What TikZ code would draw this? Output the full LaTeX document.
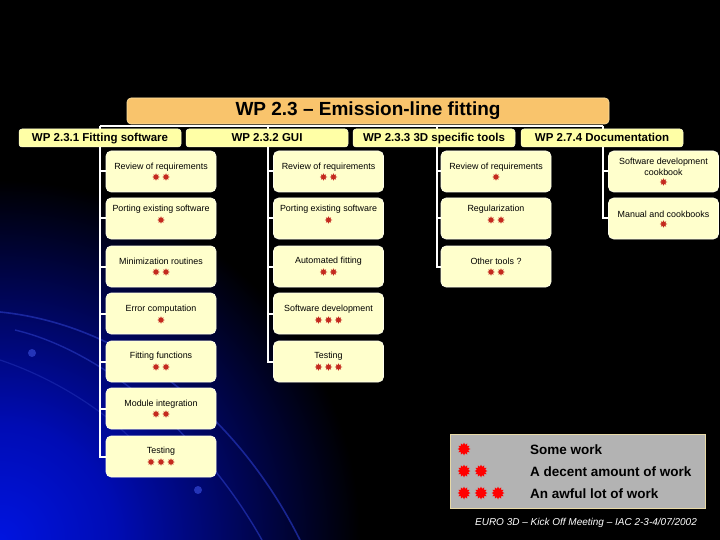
\documentclass[tikz,border=0pt]{standalone}
\usepackage{fontspec}
\setmainfont{Liberation Sans}
\usetikzlibrary{shapes.geometric,calc}
\definecolor{titlefill}{HTML}{F9C46C}
\definecolor{titleedge}{HTML}{FCE2A6}
\definecolor{wpfill}{HTML}{FFFFA6}
\definecolor{wpedge}{HTML}{FFFFD8}
\definecolor{taskfill}{HTML}{FFFFCC}
\definecolor{taskedge}{HTML}{FFFFEE}
\definecolor{starred}{HTML}{C42A1E}
\definecolor{legfill}{HTML}{B3B3B3}
\definecolor{legedge}{HTML}{E8D9A6}
\definecolor{glowA}{HTML}{0014E0}
\definecolor{glowB}{HTML}{000CB4}
\definecolor{glowC}{HTML}{000660}
\definecolor{arcblue}{HTML}{2434B8}
\pgfdeclareradialshading{glow}{\pgfpoint{0bp}{0bp}}{color(0bp)=(glowA); color(8bp)=(glowB); color(16bp)=(glowC); color(25bp)=(black); color(50bp)=(black)}
\newcommand{\wpitem}[7]{%
  \node[taskbox] (#1) at (#2,#3+20.5) {};
  \node[tasktext] (#1t) at (#2,#3+#4) {#7};
  \foreach \k in {1,...,#6} {\node[smallstar] (#1s\k) at ({#2+10*(\k-(#6+1)/2)},#3+#5) {};}
}
\begin{document}
\begin{tikzpicture}[x=1pt,y=-1pt,
  conn/.style={draw=white, line width=2pt},
  titlebox/.style={fill=titlefill, draw=titleedge, line width=0.6pt, rounded corners=4pt, minimum width=482pt, minimum height=26pt, inner sep=0pt, text height=13.6pt, text depth=4pt, font=\bfseries\fontsize{19}{22}\selectfont},
  wpbox/.style={fill=wpfill, draw=wpedge, line width=0.5pt, rounded corners=3pt, minimum width=162pt, minimum height=18pt, inner sep=0pt, text height=8.6pt, text depth=2.2pt, font=\bfseries\fontsize{11.5}{13}\selectfont},
  taskbox/.style={fill=taskfill, draw=taskedge, line width=0.6pt, rounded corners=5pt, minimum width=110pt, minimum height=41pt, inner sep=0pt},
  tasktext/.style={font=\fontsize{8.9}{11}\selectfont, inner sep=0pt, align=center},
  smallstar/.style={star, star points=8, star point ratio=1.8, fill=starred, draw=none, minimum size=7.5pt, inner sep=0pt},
  bigstar/.style={star, star points=12, star point ratio=1.5, fill=red, draw=none, minimum size=13pt, inner sep=0pt},
  legbox/.style={fill=legfill, draw=legedge, line width=0.8pt, minimum width=255pt, minimum height=74pt, inner sep=0pt},
  legtext/.style={anchor=west, font=\bfseries\fontsize{13.5}{15}\selectfont, inner sep=0pt}]
\useasboundingbox (0,0) rectangle (720,540);
% background
\fill[black] (0,0) rectangle (720,540);
\begin{scope}
  \clip (0,0) rectangle (720,540);
  \shade[shading=glow] (0,540) circle (360pt);
  \draw[arcblue, line width=1.6pt, opacity=0.7] (0,312) .. controls (130,325) and (240,420) .. (300,540);
  \draw[arcblue, line width=1.4pt, opacity=0.7] (15,330) .. controls (100,350) and (200,430) .. (262,540);
  \draw[arcblue, line width=1.2pt, opacity=0.5] (0,360) .. controls (60,380) and (120,420) .. (150,460);
  \fill[arcblue] (32,353) circle (4pt);
  \fill[arcblue] (198,490) circle (4pt);
\end{scope}
% junctions
\coordinate (j1) at (100,126);
\coordinate (j2) at (268,126);
\coordinate (j3) at (437,126);
\coordinate (j4) at (603,126);
% task boxes column 1
\wpitem{a1}{161}{151}{16}{26}{2}{Review of requirements}
\wpitem{a2}{161}{198}{11}{22}{1}{Porting existing software}
\wpitem{a3}{161}{246}{15}{26}{2}{Minimization routines}
\wpitem{a4}{161}{293}{16}{27}{1}{Error computation}
\wpitem{a5}{161}{341}{15}{26}{2}{Fitting functions}
\wpitem{a6}{161}{388}{16}{26}{2}{Module integration}
\wpitem{a7}{161}{436}{15}{26}{3}{Testing}
% column 2
\wpitem{b1}{328.5}{151}{16}{26}{2}{Review of requirements}
\wpitem{b2}{328.5}{198}{11}{22}{1}{Porting existing software}
\wpitem{b3}{328.5}{246}{15}{26}{2}{Automated fitting}
\wpitem{b4}{328.5}{293}{16}{27}{3}{Software development}
\wpitem{b5}{328.5}{341}{15}{26}{3}{Testing}
% column 3
\wpitem{c1}{496}{151}{16}{26}{1}{Review of requirements}
\wpitem{c2}{496}{198}{11}{22}{2}{Regularization}
\wpitem{c3}{496}{246}{15}{26}{2}{Other tools ?}
% column 4
\wpitem{d1}{663.5}{151}{15.5}{31}{1}{Software development\\cookbook}
\wpitem{d2}{663.5}{198}{16}{26}{1}{Manual and cookbooks}
% connectors
\draw[conn] (j1) -- (j4);
\draw[conn] (j1) |- (a7.west);
\foreach \n in {a1,a2,a3,a4,a5,a6} \draw[conn] (j1 |- \n.west) -- (\n.west);
\draw[conn] (j2) |- (b5.west);
\foreach \n in {b1,b2,b3,b4} \draw[conn] (j2 |- \n.west) -- (\n.west);
\draw[conn] (j3) |- (c3.west);
\foreach \n in {c1,c2} \draw[conn] (j3 |- \n.west) -- (\n.west);
\draw[conn] (j4) |- (d2.west);
\draw[conn] (j4 |- d1.west) -- (d1.west);
% level 2 boxes and title
\node[titlebox] (title) at (368,111) {WP 2.3 -- Emission-line fitting};
\node[wpbox] (w1) at (100,138) {WP 2.3.1 Fitting software};
\node[wpbox] (w2) at (267,138) {WP 2.3.2 GUI};
\node[wpbox] (w3) at (434,138) {WP 2.3.3 3D specific tools};
\node[wpbox] (w4) at (602,138) {WP 2.7.4 Documentation};
% legend
\node[legbox] (leg) at (577.5,471) {};
\node[bigstar] (l1a) at (464,449) {};
\node[bigstar] (l2a) at (464,471) {};
\node[bigstar] (l2b) at (481,471) {};
\node[bigstar] (l3a) at (464,493) {};
\node[bigstar] (l3b) at (481,493) {};
\node[bigstar] (l3c) at (498,493) {};
\node[legtext] (lt1) at (530,450) {Some work};
\node[legtext] (lt2) at (530,472) {A decent amount of work};
\node[legtext] (lt3) at (530,494) {An awful lot of work};
% footer
\node[font=\itshape\fontsize{10}{12}\selectfont, text=white, inner sep=0pt] (foot) at (586,523) {EURO 3D -- Kick Off Meeting -- IAC 2-3-4/07/2002};
\end{tikzpicture}
\end{document}
